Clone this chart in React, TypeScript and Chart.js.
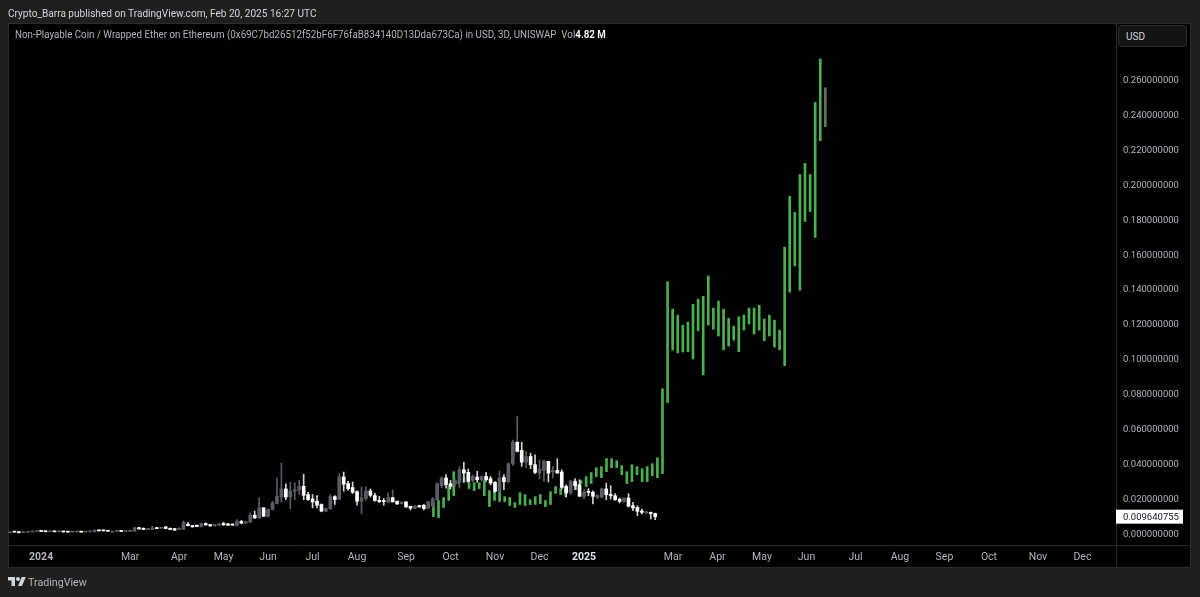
import { useEffect, useRef } from "react";
import { Chart, registerables } from "chart.js";

Chart.register(...registerables);

// main candles, 3D bars (white = down, grey = up)
const open = [
  0.0009, 0.0009, 0.0008, 0.0005, 0.0007, 0.0009, 0.0011, 0.0014, 0.0012, 0.001,
  0.0011, 0.001, 0.0011, 0.0009, 0.0008, 0.0009, 0.001, 0.0008, 0.001, 0.001,
  0.0019, 0.002, 0.0015, 0.0013, 0.0012, 0.0013, 0.0012, 0.0012, 0.0013, 0.0034,
  0.003, 0.0023, 0.0023, 0.0034, 0.003, 0.0038, 0.003, 0.0028, 0.0023, 0.0023,
  0.0053, 0.0045, 0.0047, 0.0038, 0.0057, 0.0051, 0.0043, 0.0047, 0.0057, 0.0055,
  0.0053, 0.0046, 0.0069, 0.0059, 0.0065, 0.0105, 0.0089, 0.0147, 0.0099, 0.0137,
  0.0171, 0.0209, 0.0255, 0.0209, 0.0242, 0.0248, 0.027, 0.0223, 0.0198, 0.0185,
  0.0166, 0.0128, 0.0141, 0.0211, 0.0196, 0.0324, 0.0286, 0.0263, 0.024, 0.0185,
  0.02, 0.0244, 0.0217, 0.019, 0.0187, 0.0179, 0.0206, 0.0185, 0.0171, 0.0181,
  0.0156, 0.0145, 0.016, 0.0162, 0.0143, 0.0156, 0.0194, 0.0274, 0.0318, 0.0285,
  0.0283, 0.0293, 0.0365, 0.035, 0.0304, 0.0323, 0.0308, 0.0327, 0.0314, 0.0293,
  0.0241, 0.0321, 0.0298, 0.0399, 0.0523, 0.0476, 0.0409, 0.0441, 0.0394, 0.0346,
  0.0361, 0.0413, 0.0354, 0.0361, 0.0352, 0.027, 0.0232, 0.0298, 0.0279, 0.0213,
  0.0241, 0.0236, 0.0207, 0.0209, 0.0255, 0.0224, 0.0216, 0.0197, 0.0184, 0.0203,
  0.0159, 0.015, 0.0129, 0.0117, 0.0121, 0.0114,
];
const close = [
  0.0009, 0.0008, 0.0005, 0.0007, 0.0009, 0.0011, 0.0014, 0.0012, 0.001, 0.0011,
  0.001, 0.0011, 0.0009, 0.0008, 0.0009, 0.001, 0.0008, 0.001, 0.0011, 0.0019,
  0.0015, 0.0015, 0.0013, 0.0013, 0.0013, 0.0012, 0.0014, 0.0018, 0.0034, 0.0026,
  0.0023, 0.0026, 0.0032, 0.0028, 0.0034, 0.0028, 0.0023, 0.0019, 0.003, 0.0064,
  0.0045, 0.0038, 0.004, 0.0057, 0.0049, 0.0043, 0.0051, 0.0055, 0.0049, 0.0047,
  0.0048, 0.0069, 0.0059, 0.0067, 0.0105, 0.0089, 0.0147, 0.0099, 0.0137, 0.0175,
  0.0213, 0.0255, 0.0209, 0.0244, 0.0251, 0.027, 0.0219, 0.0194, 0.0181, 0.0162,
  0.0128, 0.0143, 0.0211, 0.0194, 0.0324, 0.0282, 0.0257, 0.0236, 0.0185, 0.0204,
  0.0244, 0.0219, 0.0189, 0.0181, 0.0183, 0.0206, 0.0181, 0.0169, 0.0179, 0.0152,
  0.0145, 0.0156, 0.0152, 0.0143, 0.0181, 0.0199, 0.0285, 0.0318, 0.0279, 0.027,
  0.0304, 0.0365, 0.0346, 0.0298, 0.0327, 0.0308, 0.0327, 0.0308, 0.0289, 0.0241,
  0.0318, 0.0296, 0.0399, 0.0523, 0.047, 0.0409, 0.0441, 0.0394, 0.035, 0.0369,
  0.0413, 0.0346, 0.0361, 0.0346, 0.0264, 0.0232, 0.0298, 0.0274, 0.0213, 0.0237,
  0.0236, 0.0213, 0.0218, 0.0255, 0.0222, 0.0216, 0.0194, 0.0184, 0.0203, 0.0156,
  0.0146, 0.0127, 0.0121, 0.0125, 0.0114, 0.0096,
];
const high = [
  0.001, 0.0009, 0.0008, 0.0008, 0.001, 0.0012, 0.0015, 0.0017, 0.0013, 0.0012,
  0.0012, 0.0012, 0.0012, 0.001, 0.001, 0.0011, 0.0011, 0.0011, 0.0012, 0.0021,
  0.0021, 0.0021, 0.0016, 0.0014, 0.0014, 0.0014, 0.0015, 0.0019, 0.0036, 0.0036,
  0.0032, 0.0028, 0.0042, 0.0036, 0.0036, 0.004, 0.0031, 0.0029, 0.0032, 0.0072,
  0.0064, 0.0047, 0.005, 0.006, 0.0061, 0.0053, 0.0053, 0.0058, 0.0064, 0.0058,
  0.0056, 0.008, 0.0076, 0.0069, 0.0118, 0.0128, 0.0204, 0.0149, 0.0141, 0.0185,
  0.0318, 0.0404, 0.0284, 0.0293, 0.029, 0.0305, 0.0339, 0.0236, 0.0223, 0.0217,
  0.017, 0.0145, 0.0223, 0.0217, 0.0343, 0.0352, 0.0299, 0.0295, 0.0244, 0.0267,
  0.0267, 0.0255, 0.0232, 0.0213, 0.02, 0.0232, 0.0251, 0.0185, 0.0181, 0.0183,
  0.0156, 0.016, 0.0162, 0.0166, 0.0185, 0.0205, 0.029, 0.0325, 0.0337, 0.0304,
  0.031, 0.0384, 0.0407, 0.0369, 0.0335, 0.0356, 0.033, 0.035, 0.0327, 0.0298,
  0.0359, 0.0337, 0.0405, 0.0535, 0.067, 0.0523, 0.047, 0.046, 0.0451, 0.0422,
  0.042, 0.0413, 0.0384, 0.0428, 0.0365, 0.0279, 0.0305, 0.0314, 0.0308, 0.0251,
  0.0257, 0.0245, 0.0222, 0.026, 0.0289, 0.0274, 0.0228, 0.0203, 0.0206, 0.0228,
  0.0178, 0.0159, 0.014, 0.0127, 0.0123, 0.0117,
];
const low = [
  0.0008, 0.0007, 0.0004, 0.0005, 0.0006, 0.0009, 0.001, 0.0011, 0.0009, 0.0009,
  0.0009, 0.0009, 0.0008, 0.0007, 0.0007, 0.0008, 0.0007, 0.0008, 0.0009, 0.0009,
  0.0014, 0.0014, 0.0012, 0.0012, 0.0011, 0.0011, 0.0011, 0.0011, 0.0012, 0.0025,
  0.0022, 0.0022, 0.0022, 0.0027, 0.0029, 0.0027, 0.0022, 0.0018, 0.0022, 0.0022,
  0.0044, 0.0036, 0.0039, 0.0037, 0.0048, 0.0042, 0.0042, 0.0046, 0.0048, 0.0046,
  0.0045, 0.0044, 0.0057, 0.0058, 0.0063, 0.0086, 0.0088, 0.0097, 0.0093, 0.0135,
  0.0169, 0.0179, 0.0194, 0.0141, 0.0194, 0.0223, 0.0194, 0.0189, 0.0147, 0.0147,
  0.0124, 0.0125, 0.0139, 0.0166, 0.0194, 0.0242, 0.0248, 0.0229, 0.0162, 0.0114,
  0.019, 0.0209, 0.0185, 0.0179, 0.0162, 0.0177, 0.0179, 0.0166, 0.0169, 0.015,
  0.0135, 0.0143, 0.015, 0.0135, 0.0141, 0.015, 0.019, 0.0262, 0.026, 0.0255,
  0.027, 0.026, 0.0293, 0.0293, 0.0295, 0.0293, 0.03, 0.0298, 0.0279, 0.0236,
  0.0236, 0.0251, 0.029, 0.039, 0.0465, 0.0384, 0.0375, 0.0371, 0.0342, 0.0312,
  0.0298, 0.0295, 0.0318, 0.0346, 0.0255, 0.0209, 0.0225, 0.0251, 0.0213, 0.0197,
  0.0216, 0.0169, 0.02, 0.0205, 0.0194, 0.0197, 0.019, 0.0175, 0.018, 0.0152,
  0.0131, 0.0102, 0.0112, 0.0115, 0.0083, 0.0079,
];
// these white candles have a grey wick in the picture
const greyWicks = [86, 114];

// overlaid green bars on their own, tighter, time scale
const greenLow = [
  0.0097, 0.0091, 0.0149, 0.0189, 0.0217, 0.0286, 0.0297, 0.0257, 0.0246, 0.0257,
  0.0217, 0.0154, 0.0189, 0.0183, 0.0183, 0.016, 0.0149, 0.0166, 0.016, 0.0166,
  0.0166, 0.0171, 0.0154, 0.0166, 0.0229, 0.0223, 0.0211, 0.024, 0.0251, 0.0286,
  0.0269, 0.0286, 0.0326, 0.032, 0.0354, 0.0377, 0.0377, 0.0337, 0.0286, 0.0297,
  0.0337, 0.0297, 0.0297, 0.0331, 0.032, 0.0343, 0.075, 0.1051, 0.1035, 0.1039,
  0.1041, 0.1, 0.1161, 0.0908, 0.1194, 0.117, 0.1131, 0.1051, 0.1073, 0.1107,
  0.1041, 0.1165, 0.1199, 0.1142, 0.1165, 0.1104, 0.1131, 0.1067, 0.1052, 0.0961,
  0.1382, 0.1532, 0.1393, 0.1787, 0.1844, 0.1696, 0.225, 0.233,
];
const greenHigh = [
  0.0177, 0.0189, 0.0206, 0.0269, 0.0354, 0.0297, 0.032, 0.0291, 0.0291, 0.0291,
  0.0303, 0.0246, 0.024, 0.0246, 0.0211, 0.0206, 0.0177, 0.0234, 0.0223, 0.0194,
  0.0211, 0.0223, 0.0189, 0.024, 0.0269, 0.0257, 0.0263, 0.0274, 0.0274, 0.0303,
  0.0326, 0.0349, 0.0377, 0.0383, 0.0429, 0.0429, 0.0417, 0.0389, 0.0354, 0.0394,
  0.0383, 0.0371, 0.0383, 0.04, 0.0434, 0.0829, 0.1442, 0.1285, 0.1251, 0.1193,
  0.1211, 0.1313, 0.1342, 0.1359, 0.1475, 0.1291, 0.1331, 0.1285, 0.1233, 0.1188,
  0.1241, 0.1252, 0.1291, 0.1291, 0.1307, 0.1229, 0.125, 0.1222, 0.1165, 0.164,
  0.1931, 0.1839, 0.2056, 0.212, 0.2056, 0.2469, 0.2719, 0.2553,
];

const priceTicks = [
  0, 0.02, 0.04, 0.06, 0.08, 0.1, 0.12, 0.14, 0.16, 0.18, 0.2, 0.22, 0.24, 0.26,
];
const timeTicks = [7, 27, 38, 48, 58, 68, 78, 89, 99, 109, 119, 129, 149, 159, 169, 179, 190, 200, 210, 220, 231, 241];
const timeLabels = [
  "2024", "Mar", "Apr", "May", "Jun", "Jul", "Aug", "Sep", "Oct", "Nov", "Dec",
  "2025", "Mar", "Apr", "May", "Jun", "Jul", "Aug", "Sep", "Oct", "Nov", "Dec",
];
const lastPrice = 0.009640755;

const PAGE_BG = "#1f1f1f";
const TEXT = "#b2b5be";
const GREEN = "#4caf50";
const GREY = "#5a5d66";
const LINE = "#2b2b2b";
const FONT = "Roboto, sans-serif";

const isUp = (i: number) => close[i] >= open[i];
const bodyColor = (ctx: any) => (isUp(ctx.dataIndex) ? GREY : "#ffffff");
const wickColor = (ctx: any) =>
  isUp(ctx.dataIndex) || greyWicks.includes(ctx.dataIndex) ? GREY : "#d4d4d4";
const greenColor = (ctx: any) =>
  ctx.dataIndex === greenLow.length - 1 ? "#66745f" : GREEN;

// black pane with the axis separators, under the bars
const panePlugin = {
  id: "pane",
  beforeDraw(chart: any) {
    const { ctx, chartArea: a } = chart;
    ctx.save();
    ctx.fillStyle = "#000000";
    ctx.fillRect(8, 23, 1183, 545);
    ctx.strokeStyle = LINE;
    ctx.lineWidth = 1;
    ctx.strokeRect(8.5, 23.5, 1182, 544);
    ctx.beginPath();
    ctx.moveTo(a.right + 0.5, 23);
    ctx.lineTo(a.right + 0.5, 568);
    ctx.moveTo(8, a.bottom + 0.5);
    ctx.lineTo(1191, a.bottom + 0.5);
    ctx.stroke();
    ctx.restore();
  },
};

// white tag with the last price on the axis
const pricePlugin = {
  id: "lastPrice",
  afterDraw(chart: any) {
    const { ctx, chartArea: a, scales } = chart;
    const y = scales.y.getPixelForValue(lastPrice);
    ctx.save();
    ctx.fillStyle = "#ffffff";
    ctx.fillRect(a.right, y - 7, 67, 14);
    ctx.fillStyle = "#131722";
    ctx.font = `9.5px ${FONT}`;
    ctx.textBaseline = "middle";
    ctx.fillText(lastPrice.toFixed(9), a.right + 7, y + 0.5);
    ctx.restore();
  },
};

export default function App() {
  const chartRef = useRef<HTMLCanvasElement | null>(null);

  useEffect(() => {
    if (!chartRef.current) return;
    const myChart = new Chart(chartRef.current, {
      type: "bar",
      data: {
        datasets: [
          {
            label: "body",
            data: open.map((o, i) => ({ x: i, y: [o, close[i]] })),
            backgroundColor: bodyColor,
            barThickness: 3,
            minBarLength: 1,
            order: 1,
          },
          {
            label: "wick",
            data: low.map((l, i) => ({ x: i, y: [l, high[i]] })),
            backgroundColor: wickColor,
            barThickness: 1,
            order: 2,
          },
          {
            label: "green",
            xAxisID: "xGreen",
            data: greenLow.map((l, i) => ({ x: i, y: [l, greenHigh[i]] })),
            backgroundColor: greenColor,
            barThickness: 2,
            order: 3,
          },
        ] as any,
      },
      plugins: [panePlugin, pricePlugin],
      options: {
        animation: false,
        responsive: false,
        grouped: false,
        layout: { padding: { left: 8, right: 9, top: 23, bottom: 29 } },
        plugins: {
          legend: { display: false },
          tooltip: { enabled: false },
        },
        scales: {
          x: {
            type: "linear",
            offset: false,
            min: -0.44,
            max: 248.55,
            grid: { display: false, drawTicks: false },
            border: { display: false },
            afterBuildTicks(scale: any) {
              scale.ticks = timeTicks.map((value) => ({ value }));
            },
            afterFit(scale: any) {
              scale.height = 23;
            },
            ticks: {
              autoSkip: false,
              maxRotation: 0,
              padding: 6,
              color: (ctx: any) => (ctx.tick?.value === 129 ? "#e0e3eb" : TEXT),
              font: (ctx: any) => ({
                family: FONT,
                size: 10.5,
                weight: ctx.tick?.value === 7 || ctx.tick?.value === 129 ? "bold" : "normal",
              }),
              callback: (value: any) => timeLabels[timeTicks.indexOf(value)],
            },
          },
          xGreen: {
            type: "linear",
            display: false,
            offset: false,
            min: -83.58,
            max: 134.1,
          },
          y: {
            type: "linear",
            position: "right",
            min: -0.00659,
            max: 0.2924,
            grid: { display: false, drawTicks: false },
            border: { display: false },
            afterBuildTicks(scale: any) {
              scale.ticks = priceTicks.map((value) => ({ value }));
            },
            afterFit(scale: any) {
              scale.width = 75;
            },
            ticks: {
              autoSkip: false,
              padding: 7,
              labelOffset: 1,
              color: TEXT,
              font: { family: FONT, size: 9.5 },
              callback: (value: any) => Number(value).toFixed(9),
            },
          },
        },
      } as any,
    });
    return () => {
      myChart.destroy();
    };
  }, []);

  const textBase: React.CSSProperties = {
    position: "absolute",
    fontFamily: FONT,
    whiteSpace: "pre",
    color: TEXT,
    transformOrigin: "left center",
  };

  return (
    <div
      style={{
        position: "fixed",
        left: 0,
        top: 0,
        width: 1200,
        height: 597,
        background: PAGE_BG,
        overflow: "hidden",
      }}
    >
      <canvas
        ref={chartRef}
        width={1200}
        height={597}
        style={{ position: "absolute", left: 0, top: 0, width: 1200, height: 597 }}
      />
      <div
        style={{
          ...textBase,
          left: 8,
          top: 7,
          fontSize: 10.5,
          color: "#d1d4dc",
          transform: "scaleX(0.96)",
        }}
      >
        Crypto_Barra published on TradingView.com, Feb 20, 2025 16:27 UTC
      </div>
      <div style={{ ...textBase, left: 15, top: 29, fontSize: 10, transform: "scaleX(0.977)" }}>
        {"Non-Playable Coin / Wrapped Ether on Ethereum (0x69C7bd26512f52bF6F76faB834140D13Dda673Ca) in USD, 3D, UNISWAP  Vol"}
        <span style={{ color: "#ffffff", fontWeight: 600 }}>4.82 M</span>
      </div>
      <div
        style={{
          position: "absolute",
          left: 1118,
          top: 25,
          width: 69,
          height: 22,
          boxSizing: "border-box",
          border: "1px solid #2e2e2e",
          borderRadius: 4,
          background: "#141414",
          color: "#d1d4dc",
          fontFamily: FONT,
          fontSize: 10,
          lineHeight: "21px",
          paddingLeft: 7,
        }}
      >
        USD
      </div>
      <svg
        viewBox="0 0 36 28"
        width={18}
        height={14}
        style={{ position: "absolute", left: 8, top: 575 }}
      >
        <path
          fill="#d1d4dc"
          d="M14 22H7V11H0V4h14v18zM28 22h-8l7.5-18h8L28 22z"
        />
        <circle fill="#d1d4dc" cx="20" cy="8" r="4" />
      </svg>
      <div style={{ ...textBase, left: 28, top: 576, fontSize: 11, transform: "scaleX(0.97)" }}>
        TradingView
      </div>
    </div>
  );
}
